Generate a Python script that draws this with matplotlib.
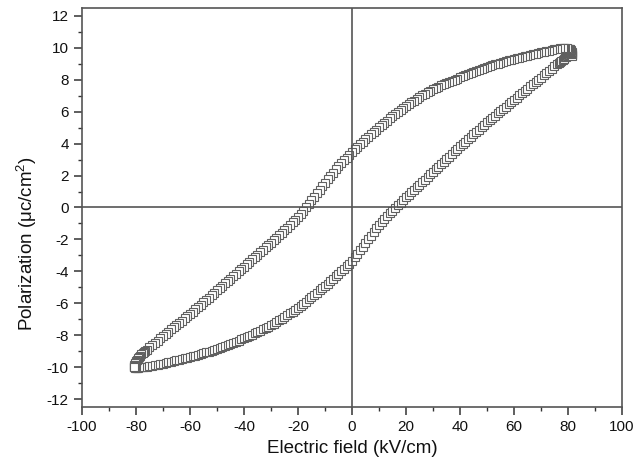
import matplotlib
matplotlib.use("Agg")
import matplotlib.pyplot as plt
from matplotlib.ticker import MultipleLocator

plt.rcParams['font.family'] = ['Liberation Sans', 'DejaVu Sans']
plt.rcParams['mathtext.fontset'] = 'custom'
plt.rcParams['mathtext.rm'] = 'Liberation Sans'
plt.rcParams['mathtext.it'] = 'Liberation Sans:italic'
plt.rcParams['axes.unicode_minus'] = False

# Upper branch (field decreasing from +max to -max)
E_down = [81.6, 81.6, 81.5, 81.4, 81.3, 81.1, 80.9, 80.6, 80.3, 80, 79.5, 79, 78.5, 78, 77, 76, 75, 74, 73, 72, 71, 70, 69, 68, 67, 66, 65,
          64, 63, 62, 61, 60, 59, 58, 57, 56, 55, 54, 53, 52, 51, 50, 49, 48, 47, 46, 45,
          44, 43, 42, 41, 40, 39, 38, 37, 36, 35, 34, 33, 32, 31, 30, 29, 28, 27, 26, 25,
          24, 23, 22, 21, 20, 19, 18, 17, 16, 15, 14, 13, 12, 11, 10, 9, 8, 7, 6, 5,
          4, 3, 2, 1, 0, -1, -2, -3, -4, -5, -6, -7, -8, -9, -10, -11, -12, -13, -14, -15,
          -16, -17, -18, -19, -20, -21, -22, -23, -24, -25, -26, -27, -28, -29, -30, -31, -32, -33, -34, -35,
          -36, -37, -38, -39, -40, -41, -42, -43, -44, -45, -46, -47, -48, -49, -50, -51, -52, -53, -54, -55,
          -56, -57, -58, -59, -60, -61, -62, -63, -64, -65, -66, -67, -68, -69, -70, -71, -72, -73, -74, -75,
          -76, -76.5, -77, -77.5, -78, -78.5, -79, -79.3, -79.6, -79.9, -80.1, -80.3, -80.5, -80.6, -80.7, -80.7]
P_down = [9.5, 9.6, 9.68, 9.75, 9.81, 9.86, 9.9, 9.93, 9.95, 9.96, 9.97, 9.98, 9.98, 9.98, 9.97, 9.94, 9.9, 9.87, 9.83, 9.79, 9.75, 9.71, 9.67, 9.63, 9.59, 9.55, 9.51,
          9.47, 9.43, 9.39, 9.35, 9.31, 9.26, 9.21, 9.16, 9.11, 9.06, 9.01, 8.96, 8.91, 8.86, 8.8, 8.74, 8.68, 8.62, 8.56, 8.5,
          8.43, 8.36, 8.29, 8.22, 8.15, 8.08, 8.01, 7.94, 7.87, 7.8, 7.73, 7.65, 7.57, 7.49, 7.4, 7.31, 7.22, 7.12, 7.02, 6.92,
          6.81, 6.7, 6.58, 6.46, 6.34, 6.22, 6.1, 5.98, 5.85, 5.72, 5.58, 5.44, 5.3, 5.16, 5.02, 4.88, 4.73, 4.58, 4.43, 4.28,
          4.13, 3.97, 3.81, 3.65, 3.48, 3.31, 3.13, 2.95, 2.76, 2.57, 2.38, 2.18, 1.98, 1.77, 1.56, 1.34, 1.12, 0.9, 0.68, 0.46,
          0.24, 0.02, -0.19, -0.39, -0.58, -0.76, -0.93, -1.1, -1.26, -1.42, -1.58, -1.74, -1.9, -2.05, -2.2, -2.35, -2.5, -2.65, -2.8, -2.95,
          -3.1, -3.25, -3.4, -3.55, -3.7, -3.85, -4.0, -4.15, -4.3, -4.45, -4.6, -4.75, -4.9, -5.05, -5.2, -5.35, -5.5, -5.65, -5.8, -5.95,
          -6.1, -6.24, -6.38, -6.52, -6.66, -6.8, -6.94, -7.08, -7.22, -7.36, -7.5, -7.64, -7.78, -7.92, -8.06, -8.2, -8.34, -8.48, -8.62, -8.76,
          -8.9, -8.97, -9.05, -9.12, -9.2, -9.28, -9.38, -9.45, -9.53, -9.62, -9.7, -9.77, -9.84, -9.89, -9.93, -9.97]

# Lower branch (field increasing from -max to +max)
E_up = [-80.7, -80.6, -80.4, -80.2, -80, -79.6, -79.2, -78.8, -78.4, -78, -77.5, -77, -76, -75, -74, -73, -72, -71, -70, -69, -68, -67, -66, -65,
        -64, -63, -62, -61, -60, -59, -58, -57, -56, -55, -54, -53, -52, -51, -50, -49, -48, -47, -46, -45,
        -44, -43, -42, -41, -40, -39, -38, -37, -36, -35, -34, -33, -32, -31, -30, -29, -28, -27, -26, -25,
        -24, -23, -22, -21, -20, -19, -18, -17, -16, -15, -14, -13, -12, -11, -10, -9, -8, -7, -6, -5,
        -4, -3, -2, -1, 0, 1, 2, 3, 4, 5, 6, 7, 8, 9, 10, 11, 12, 13, 14, 15,
        16, 17, 18, 19, 20, 21, 22, 23, 24, 25, 26, 27, 28, 29, 30, 31, 32, 33, 34, 35,
        36, 37, 38, 39, 40, 41, 42, 43, 44, 45, 46, 47, 48, 49, 50, 51, 52, 53, 54, 55,
        56, 57, 58, 59, 60, 61, 62, 63, 64, 65, 66, 67, 68, 69, 70, 71, 72, 73, 74, 75,
        76, 76.5, 77, 77.5, 78, 78.5, 79, 79.4, 79.8, 80.1, 80.4, 80.7, 81, 81.2, 81.4, 81.5]
P_up = [-9.99, -10.01, -10.02, -10.03, -10.03, -10.03, -10.03, -10.02, -10.02, -10.01, -10.0, -9.99, -9.97, -9.94, -9.91, -9.88, -9.85, -9.82, -9.78, -9.74, -9.7, -9.66, -9.62, -9.58,
        -9.54, -9.5, -9.46, -9.42, -9.38, -9.33, -9.28, -9.23, -9.18, -9.13, -9.08, -9.03, -8.97, -8.91, -8.85, -8.79, -8.73, -8.67, -8.61, -8.55,
        -8.48, -8.41, -8.34, -8.27, -8.2, -8.13, -8.05, -7.97, -7.89, -7.81, -7.73, -7.64, -7.55, -7.46, -7.37, -7.27, -7.17, -7.07, -6.97, -6.86,
        -6.75, -6.64, -6.52, -6.4, -6.28, -6.15, -6.02, -5.89, -5.75, -5.61, -5.47, -5.33, -5.19, -5.05, -4.91, -4.77, -4.62, -4.47, -4.32, -4.17,
        -4.01, -3.85, -3.68, -3.51, -3.34, -3.12, -2.9, -2.68, -2.45, -2.22, -1.99, -1.76, -1.53, -1.31, -1.1, -0.9, -0.71, -0.53, -0.36, -0.19,
        -0.02, 0.15, 0.31, 0.47, 0.63, 0.79, 0.95, 1.11, 1.27, 1.43, 1.59, 1.75, 1.91, 2.07, 2.23, 2.39, 2.55, 2.71, 2.87, 3.03,
        3.19, 3.35, 3.51, 3.67, 3.83, 3.98, 4.13, 4.28, 4.43, 4.58, 4.73, 4.88, 5.03, 5.18, 5.33, 5.48, 5.62, 5.76, 5.9, 6.04,
        6.18, 6.32, 6.46, 6.6, 6.74, 6.88, 7.02, 7.16, 7.3, 7.44, 7.58, 7.72, 7.86, 8.0, 8.14, 8.28, 8.42, 8.56, 8.7, 8.84,
        8.98, 9.05, 9.12, 9.19, 9.26, 9.33, 9.4, 9.45, 9.5, 9.54, 9.57, 9.59, 9.6, 9.6, 9.58, 9.54]

x_ticks = [-100, -80, -60, -40, -20, 0, 20, 40, 60, 80, 100]
y_ticks = [-12, -10, -8, -6, -4, -2, 0, 2, 4, 6, 8, 10, 12]

fig = plt.figure(figsize=(6.42, 4.68), dpi=100)
ax = fig.add_axes([0.1277, 0.1303, 0.8411, 0.8527])

mk = dict(linestyle='none', marker='s', markersize=5.3, markerfacecolor='white',
          markeredgecolor='#606060', markeredgewidth=0.8)
ax.plot(E_up, P_up, **mk, zorder=2)
ax.plot(E_down, P_down, **mk, zorder=2)

ax.axhline(0, color='#555555', lw=1.2, zorder=3)
ax.axvline(0, color='#555555', lw=1.2, zorder=3)

ax.set_xlim(-100, 100)
ax.set_ylim(-12.5, 12.5)
ax.set_xticks(x_ticks)
ax.set_yticks(y_ticks)
ax.xaxis.set_minor_locator(MultipleLocator(10))
ax.yaxis.set_minor_locator(MultipleLocator(1))
ax.tick_params(which='both', direction='out', top=False, right=False, color='#333333',
               labelsize=11, labelcolor='#111111')
ax.tick_params(which='major', length=5.5, width=1.1, pad=4)
ax.tick_params(which='minor', length=3, width=1.0)
for s in ax.spines.values():
    s.set_color('#555555')
    s.set_linewidth(1.2)

ax.set_xlabel('Electric field (kV/cm)', fontsize=13.5, color='#111111')
ax.xaxis.set_label_coords(0.5, -0.083)
ax.set_ylabel('Polarization (μc/cm$^{2}$)', fontsize=13.5, color='#111111')
ax.yaxis.set_label_coords(-0.08, 0.41)

fig.savefig('out.png', dpi=100)
